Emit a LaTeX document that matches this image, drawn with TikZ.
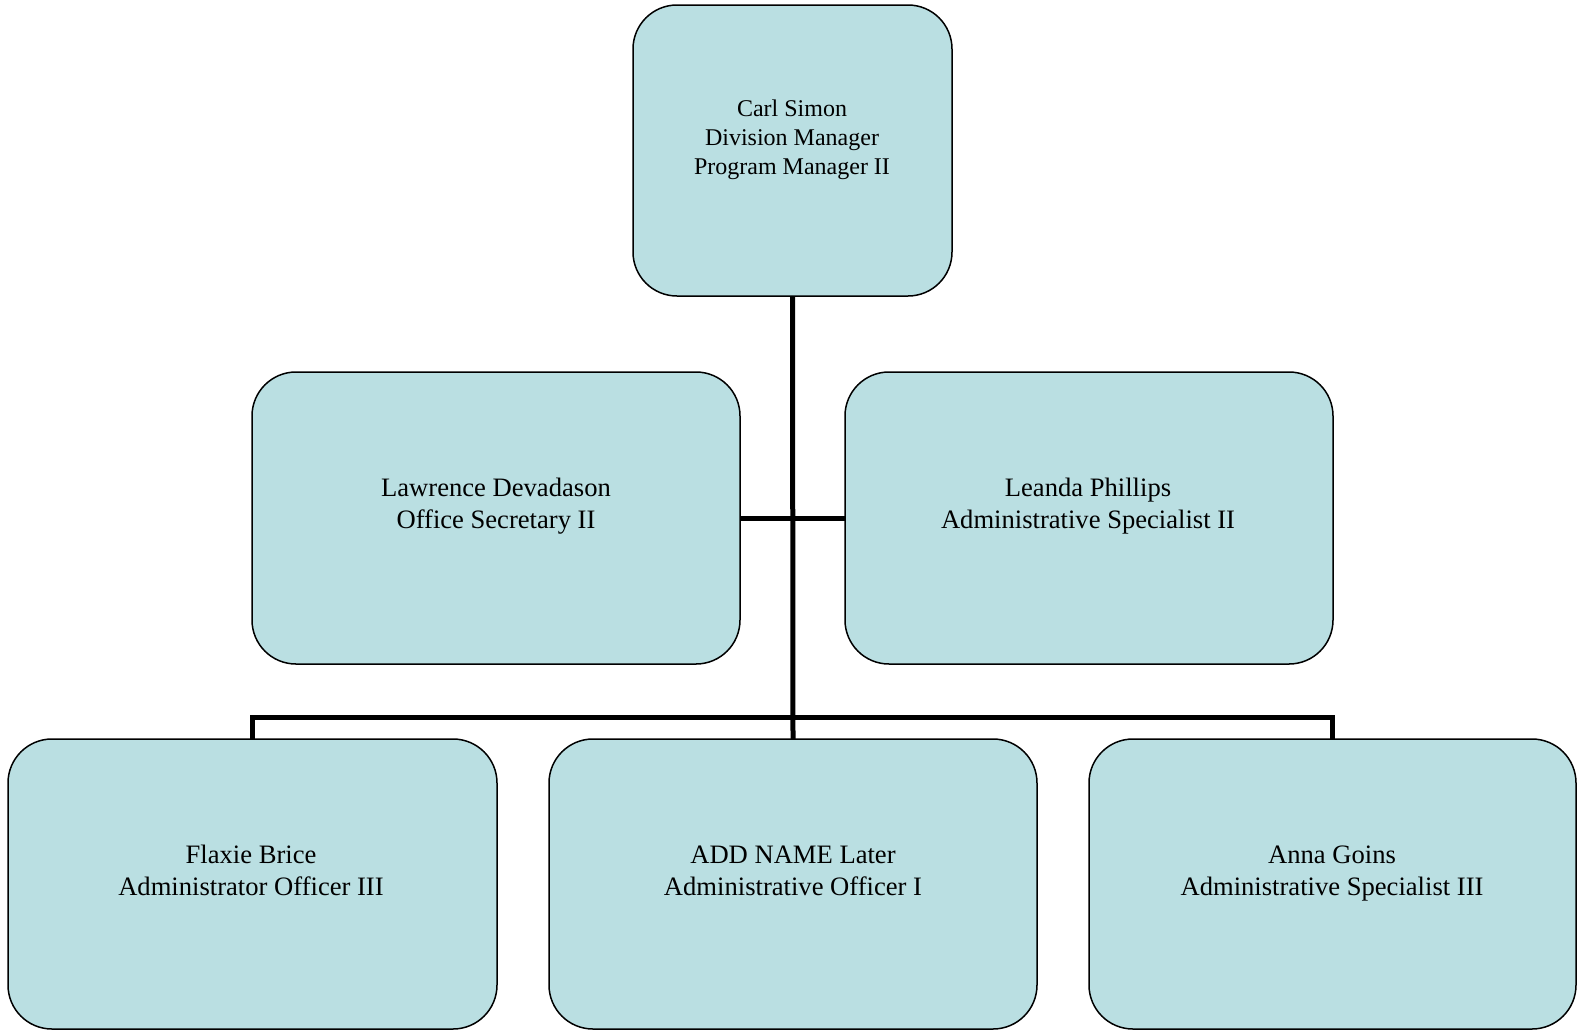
\documentclass[tikz,border=0pt]{standalone}
\usepackage{fontspec}
\setmainfont{Liberation Serif}
\definecolor{boxfill}{RGB}{186,223,226}
\begin{document}
\begin{tikzpicture}[x=1pt,y=-1pt,
  box/.style={draw=black,line width=1.5pt,fill=boxfill,rounded corners=44pt,inner sep=0pt,outer sep=0pt},
  conn/.style={draw=black,line width=5pt},
  bigtxt/.style={align=center,font=\fontsize{26.6}{32}\selectfont,inner sep=0pt},
  smalltxt/.style={align=center,font=\fontsize{24}{29}\selectfont,inner sep=0pt}]
\useasboundingbox (0,0) rectangle (1577,1029);
\begin{scope}
\clip (0,0) rectangle (1577,1029);
% boxes
\node[box,minimum width=319pt,minimum height=291pt] (top) at (792.5,150.5) {};
\node[box,minimum width=488pt,minimum height=292pt] (ml) at (496,518) {};
\node[box,minimum width=488pt,minimum height=292pt] (mr) at (1089,518) {};
\node[box,minimum width=489pt,minimum height=290pt] (bl) at (252.5,884) {};
\node[box,minimum width=488pt,minimum height=290pt] (bm) at (793,884) {};
\node[box,minimum width=487pt,minimum height=290pt] (br) at (1332.5,884) {};
\coordinate (bus) at (793,717);
% connectors
\draw[conn] (top.south) -- (bm.north);
\draw[conn] (ml.east) -- (mr.west);
\draw[conn] (bl.north) |- (bus) -| (br.north);
% texts
\node[smalltxt] (ttop) at (792,139.5) {\strut Carl Simon\\\strut Division Manager\\\strut Program Manager II};
\node[bigtxt] (tml) at (496,506) {\strut Lawrence Devadason\\\strut Office Secretary II};
\node[bigtxt] (tmr) at (1088,506) {\strut Leanda Phillips\\\strut Administrative Specialist II};
\node[bigtxt] (tbl) at (251,873) {\strut Flaxie Brice\\\strut Administrator Officer III};
\node[bigtxt] (tbm) at (793,873) {\strut ADD NAME Later\\\strut Administrative Officer I};
\node[bigtxt] (tbr) at (1332,873) {\strut Anna Goins\\\strut Administrative Specialist III};
\end{scope}
\end{tikzpicture}
\end{document}
